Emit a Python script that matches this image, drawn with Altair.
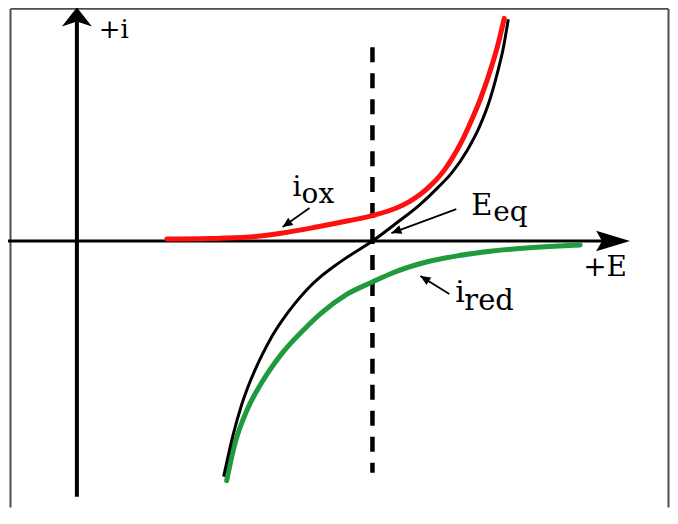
import altair as alt
import pandas as pd

# ---- data (arbitrary units: E potential, i current) ----
E_ox = [1.80, 2.66, 3.46, 4.12, 4.80, 5.46, 5.92, 6.40, 6.66, 6.86, 7.06, 7.20, 7.36, 7.52, 7.70, 7.86, 8.08, 8.32, 8.44, 8.56]
i_ox = [0.04, 0.05, 0.08, 0.16, 0.28, 0.41, 0.51, 0.66, 0.79, 0.92, 1.09, 1.23, 1.42, 1.66, 1.98, 2.32, 2.84, 3.54, 3.96, 4.46]

E_net = [2.94, 3.12, 3.30, 3.42, 3.56, 3.70, 3.90, 4.12, 4.36, 4.62, 4.90, 5.16, 5.42, 5.92,
         6.40, 6.86, 7.22, 7.52, 7.82, 8.06, 8.28, 8.42, 8.54, 8.64]
i_net = [-4.72, -3.92, -3.28, -2.94, -2.60, -2.30, -1.92, -1.58, -1.26, -0.96, -0.70, -0.50, -0.32, 0.0,
         0.36, 0.72, 1.06, 1.38, 1.82, 2.28, 2.86, 3.36, 3.86, 4.44]

E_red = [3.00, 3.16, 3.42, 3.70, 4.10, 4.56, 4.90, 5.42, 5.92, 6.32, 7.00, 7.66, 8.32, 9.00, 9.66, 10.08]
i_red = [-4.80, -4.08, -3.36, -2.84, -2.26, -1.76, -1.44, -1.06, -0.82, -0.64, -0.42, -0.29, -0.20, -0.14, -0.10, -0.08]

E_EQ = 5.92

# label texts
label_text = ["+i", "+E", "i", "ox", "E", "eq", "i", "red"]
label_E = [0.44, 10.14, 4.32, 4.50, 7.90, 8.34, 7.58, 7.76]
label_i = [4.06, -0.70, 0.90, 0.76, 0.52, 0.40, -1.22, -1.38]
label_size = [26, 28, 28, 28, 29, 28, 30, 29]

# annotation arrows (start -> tip)
arr_E0 = [4.66, 7.60, 7.46]
arr_i0 = [0.66, 0.64, -1.06]
arr_E1 = [4.12, 6.30, 6.88]
arr_i1 = [0.28, 0.16, -0.70]
arr_ang = [234.9, 249.7, 301.8]

# ---- chart ----
xs = alt.Scale(domain=[-1.38, 11.88], nice=False, zero=False)
ys = alt.Scale(domain=[-5.34, 4.66], nice=False, zero=False)


def X(f):
    return alt.X(f + ":Q", scale=xs, axis=None)


def Y(f):
    return alt.Y(f + ":Q", scale=ys, axis=None)


FONT = "DejaVu Serif"

frame = pd.DataFrame({
    "E0": [-1.33, -1.33, 11.85],
    "E1": [11.85, -1.33, 11.85],
    "i0": [4.65, 4.65, 4.65],
    "i1": [4.65, -5.34, -5.34],
})
frame_layer = alt.Chart(frame).mark_rule(color="#4d4d4d", strokeWidth=2).encode(
    x=X("E0"), x2="E1", y=Y("i0"), y2="i1"
)

axes = pd.DataFrame({
    "E0": [0.0, -1.38],
    "E1": [0.0, 10.70],
    "i0": [-5.12, 0.0],
    "i1": [4.40, 0.0],
    "w": [4, 3],
})
axes_layer = alt.Chart(axes).mark_rule(color="black").encode(
    x=X("E0"), x2="E1", y=Y("i0"), y2="i1", strokeWidth=alt.StrokeWidth("w:Q", scale=None)
)

yhead = alt.Chart(pd.DataFrame({"E": [0.0], "i": [4.68]})).mark_point(
    shape="M0,0 L1,1.27 L0,0.95 L-1,1.27 Z", filled=True, size=900, color="black", opacity=1, strokeWidth=0
).encode(x=X("E"), y=Y("i"))

xhead = alt.Chart(pd.DataFrame({"E": [11.08], "i": [0.0]})).mark_point(
    shape="M0,0 L-2,0.6 L-1.65,0 L-2,-0.6 Z", filled=True, size=1156, color="black", opacity=1, strokeWidth=0
).encode(x=X("E"), y=Y("i"))

dash = alt.Chart(pd.DataFrame({"E": [E_EQ], "i0": [3.88], "i1": [-4.64]})).mark_rule(
    color="black", strokeWidth=4.5, strokeDash=[15, 11]
).encode(x=X("E"), y=Y("i0"), y2="i1")

red = alt.Chart(pd.DataFrame({"E": E_ox, "i": i_ox})).mark_line(
    color="#ff1010", strokeWidth=5, interpolate="monotone", strokeCap="round"
).encode(x=X("E"), y=Y("i"))

green = alt.Chart(pd.DataFrame({"E": E_red, "i": i_red})).mark_line(
    color="#1f9a3c", strokeWidth=5, interpolate="monotone", strokeCap="round"
).encode(x=X("E"), y=Y("i"))

black = alt.Chart(pd.DataFrame({"E": E_net, "i": i_net})).mark_line(
    color="black", strokeWidth=3, interpolate="monotone"
).encode(x=X("E"), y=Y("i"))

arrows = pd.DataFrame({"E0": arr_E0, "i0": arr_i0, "E1": arr_E1, "i1": arr_i1, "ang": arr_ang})
arrow_lines = alt.Chart(arrows).mark_rule(color="black", strokeWidth=1.8).encode(
    x=X("E0"), x2="E1", y=Y("i0"), y2="i1"
)
arrow_heads = alt.Chart(arrows).mark_point(
    shape="M0,0 L0.45,1 L-0.45,1 Z", filled=True, size=400, color="black", opacity=1, strokeWidth=0
).encode(x=X("E1"), y=Y("i1"), angle=alt.Angle("ang:Q", scale=None))

labels = alt.Chart(pd.DataFrame({"t": label_text, "E": label_E, "i": label_i, "fs": label_size})).mark_text(
    align="left", baseline="alphabetic", font=FONT, color="#000000"
).encode(x=X("E"), y=Y("i"), text="t:N", size=alt.Size("fs:Q", scale=None))

chart = alt.layer(
    frame_layer, axes_layer, yhead, xhead, dash, red, green, black, arrow_lines, arrow_heads, labels
).properties(
    width=663, height=500, padding=0, autosize=alt.AutoSizeParams(type="none")
).configure_view(stroke=None)

chart.save("out.html", embed_options={"renderer": "svg", "actions": False})
